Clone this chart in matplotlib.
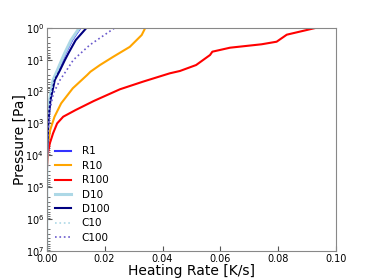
import matplotlib
matplotlib.use("Agg")
import matplotlib.pyplot as plt

# log10 of pressure [Pa] and heating rate [K/s]
lp_r100 = [7.0, 5.0, 4.4, 3.94, 3.62, 3.31, 3.0, 2.79, 2.58, 2.30, 2.21, 1.93, 1.69, 1.43,
           1.357, 1.17, 0.856, 0.752, 0.627, 0.52, 0.439, 0.219, 0.0]
hr_r100 = [0.0, 0.0, 0.0001, 0.0004, 0.0011, 0.0022, 0.0036, 0.0057, 0.0100, 0.0162, 0.0184,
           0.0253, 0.0333, 0.0425, 0.0460, 0.0516, 0.0564, 0.0572, 0.0633, 0.0742,
           0.0794, 0.0829, 0.0932]

lp_r10 = [7.0, 5.0, 4.3, 3.62, 3.21, 2.79, 2.37, 1.90, 1.48, 1.38, 1.17, 0.91, 0.60,
          0.23, 0.05, 0.0]
hr_r10 = [0.0, 0.0, 0.0001, 0.0005, 0.0012, 0.0027, 0.0050, 0.0090, 0.0140, 0.0151,
          0.0184, 0.0230, 0.0287, 0.0328, 0.0338, 0.0340]

lp_r1 = [7.0, 5.0, 4.0, 2.89, 2.27, 1.64, 1.33, 1.01, 0.80, 0.39, 0.0]
hr_r1 = [0.0, 0.0, 0.0001, 0.0005, 0.0011, 0.0024, 0.0040, 0.0055, 0.0065, 0.0088, 0.0117]
hr_d10 = [0.0, 0.0, 0.0001, 0.0004, 0.0010, 0.0022, 0.0037, 0.0052, 0.0062, 0.0084, 0.0113]
hr_d100 = [0.0, 0.0, 0.0001, 0.0006, 0.0013, 0.0028, 0.0046, 0.0063, 0.0075, 0.0100, 0.0138]
hr_c10 = [0.0, 0.0, 0.0001, 0.0004, 0.0010, 0.0023, 0.0038, 0.0053, 0.0063, 0.0086, 0.0115]

lp_c100 = [7.0, 5.0, 4.0, 3.2, 2.58, 2.06, 1.64, 1.33, 1.01, 0.54, 0.0]
hr_c100 = [0.0, 0.0, 0.0001, 0.0005, 0.0011, 0.0023, 0.0046, 0.0069, 0.0092, 0.0149, 0.0236]


def pa(lp):
    return [10 ** v for v in lp]


plt.rcParams['font.family'] = ['DejaVu Sans']
fig = plt.figure(figsize=(3.74, 2.8), dpi=100)
ax = fig.add_axes([46.7/374, 1 - 251/280, (336.3-46.7)/374, (251-27.7)/280])

ax.plot(hr_r1, pa(lp_r1), color="#3333ff", lw=1.5, label="R1")
ax.plot(hr_r10, pa(lp_r10), color="orange", lw=1.5, label="R10")
ax.plot(hr_r100, pa(lp_r100), color="red", lw=1.5, label="R100")
ax.plot(hr_d10, pa(lp_r1), color="lightblue", lw=2.2, label="D10")
ax.plot(hr_d100, pa(lp_r1), color="navy", lw=1.5, label="D100")
ax.plot(hr_c10, pa(lp_r1), color="lightblue", lw=1.2, ls=":", label="C10")
ax.plot(hr_c100, pa(lp_c100), color="slateblue", lw=1.2, ls=":", label="C100")

ax.set_yscale("log")
ax.set_ylim(1e7, 1e0)
ax.set_xlim(0, 0.1)
ax.set_xticks([0.0, 0.02, 0.04, 0.06, 0.08, 0.10])
ax.set_xticklabels(["0.00", "0.02", "0.04", "0.06", "0.08", "0.10"])
ax.tick_params(labelsize=7, direction="in", color="#555555", pad=2)
ax.tick_params(which="minor", direction="in", color="#555555")
for s in ax.spines.values():
    s.set_color("#888888")
ax.set_xlabel("Heating Rate [K/s]", fontsize=10, labelpad=0)
ax.set_ylabel("Pressure [Pa]", fontsize=10, labelpad=-1)

ax.legend(loc="lower left", frameon=False, fontsize=7.5, handlelength=1.6,
          handletextpad=1.0, labelspacing=0.42, bbox_to_anchor=(-0.005, -0.005))

fig.savefig("out.png", dpi=100)
